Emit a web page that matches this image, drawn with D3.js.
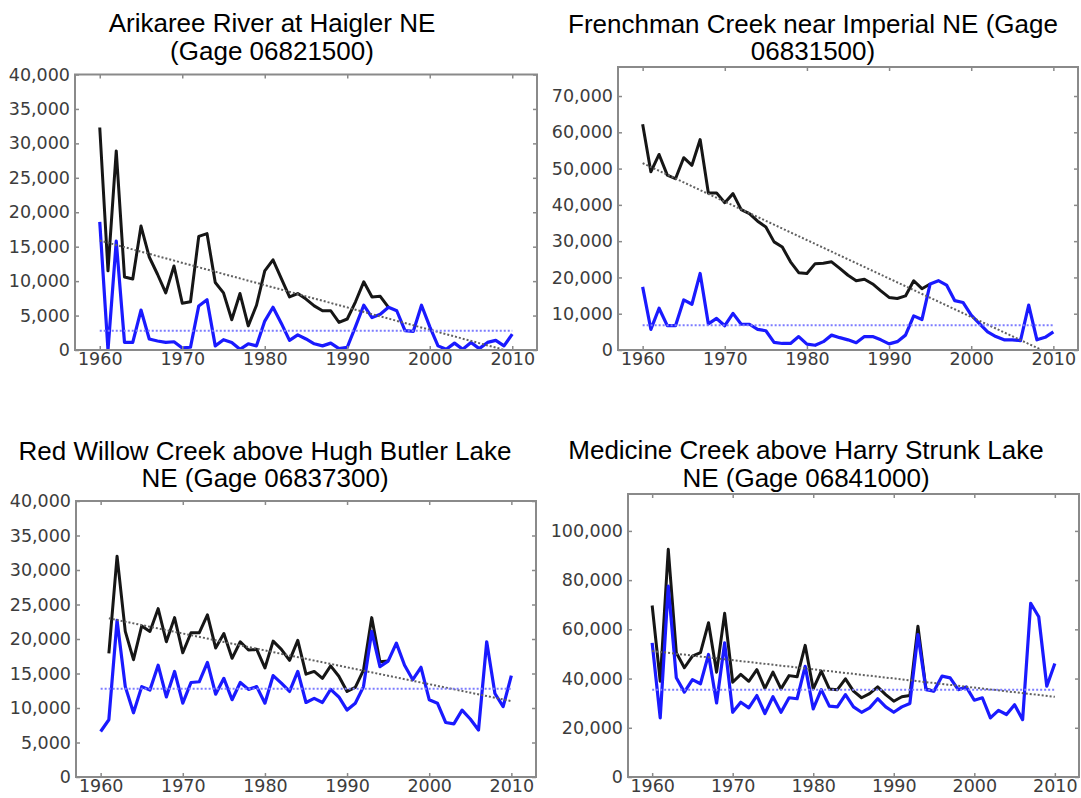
<!DOCTYPE html>
<html>
<head>
<meta charset="utf-8">
<script src="https://cdn.jsdelivr.net/npm/d3@7"></script>
<style>
  html, body { margin: 0; padding: 0; background: #fff; }
  svg { display: block; }
</style>
</head>
<body>
<svg id="chart" width="1081" height="798"></svg>
<script>
// Years on the x axis
const years = [1960, 1961, 1962, 1963, 1964, 1965, 1966, 1967, 1968, 1969,
  1970, 1971, 1972, 1973, 1974, 1975, 1976, 1977, 1978, 1979,
  1980, 1981, 1982, 1983, 1984, 1985, 1986, 1987, 1988, 1989,
  1990, 1991, 1992, 1993, 1994, 1995, 1996, 1997, 1998, 1999,
  2000, 2001, 2002, 2003, 2004, 2005, 2006, 2007, 2008, 2009, 2010];
const xTicks = [1960, 1970, 1980, 1990, 2000, 2010];

// Arikaree River at Haigler
const arikareeTitle = ["Arikaree River at Haigler NE", "(Gage 06821500)"];
const arikareeBlack = [32300, 11500, 28900, 10600, 10300, 18000, 13500, 11000, 8300, 12200,
  6800, 7000, 16500, 16900, 9800, 8300, 4400, 8200, 3500, 6500,
  11500, 13100, 10400, 7700, 8200, 7400, 6400, 5700, 5700, 4000,
  4500, 7000, 9900, 7700, 7800, 6200];
const arikareeBlue = [18600, 0, 15800, 1100, 1100, 5800, 1600, 1300, 1100, 1200,
  300, 400, 6400, 7300, 600, 1500, 1100, 100, 900, 600,
  4200, 6200, 3900, 1400, 2200, 1600, 900, 600, 1000, 200,
  400, 3400, 6500, 4700, 5200, 6200, 5700, 2800, 2700, 6500,
  3400, 600, 100, 1000, 100, 1100, 200, 1100, 1400, 600, 2300];
const arikareeTrend = [15900, -300];
const arikareeMean = 2800;
const arikareeTicks = [0, 5000, 10000, 15000, 20000, 25000, 30000, 35000, 40000];

// Frenchman Creek near Imperial
const frenchmanTitle = ["Frenchman Creek near Imperial NE (Gage", "06831500)"];
const frenchmanBlack = [62200, 49100, 53900, 48200, 47200, 53000, 50900, 58000, 43300, 43300,
  40600, 43100, 38700, 37600, 35500, 33900, 29800, 28400, 24300, 21300,
  21100, 23800, 23900, 24300, 22500, 20600, 19100, 19500, 18200, 16300,
  14500, 14200, 14900, 19100, 16900, 18200];
const frenchmanBlue = [17400, 5700, 11500, 6700, 6700, 13800, 12600, 21100, 7200, 8700,
  6700, 10100, 7100, 7100, 5700, 5300, 2100, 1800, 1800, 3700,
  1600, 1300, 2300, 4100, 3400, 2800, 2000, 3700, 3700, 2800,
  1700, 2300, 4100, 9400, 8400, 18200, 19100, 17900, 13600, 13100,
  9600, 7300, 5000, 3700, 2800, 2800, 2600, 12400, 2800, 3500, 5000];
const frenchmanTrend = [51500, -1500];
const frenchmanMean = 6800;
const frenchmanTicks = [0, 10000, 20000, 30000, 40000, 50000, 60000, 70000];

// Red Willow Creek above Hugh Butler Lake
const redWillowTitle = ["Red Willow Creek above Hugh Butler Lake", "NE (Gage 06837300)"];
const redWillowBlack = [null, 17900, 32000, 21100, 17000, 21900, 21100, 24400, 19600, 23100,
  18000, 20900, 20900, 23500, 18700, 20800, 17200, 19600, 18400, 18500,
  15800, 19700, 18500, 16900, 19800, 14900, 15300, 14300, 16100, 14600,
  12400, 13000, 15500, 23100, 16700, 16800];
const redWillowBlue = [6600, 8300, 22700, 13100, 9300, 13100, 12600, 16200, 11600, 15300,
  10700, 13700, 13800, 16600, 12000, 14300, 11200, 13700, 12700, 13100,
  10700, 14700, 13600, 12400, 15300, 10800, 11400, 10800, 12700, 11600,
  9700, 10700, 13100, 21100, 16000, 16800, 19400, 16200, 14100, 15900,
  11200, 10700, 7900, 7700, 9700, 8400, 6800, 19600, 12100, 10200, 14700];
const redWillowTrend = [23000, 11000];
const redWillowMean = 12800;
const redWillowTicks = [0, 5000, 10000, 15000, 20000, 25000, 30000, 35000, 40000];

// Medicine Creek above Harry Strunk Lake
const medicineTitle = ["Medicine Creek above Harry Strunk Lake", "NE (Gage 06841000)"];
const medicineBlack = [69700, 38900, 92500, 50500, 44400, 49100, 50500, 62700, 42600, 66500,
  38500, 41700, 38900, 43600, 36000, 42600, 35800, 41200, 40700, 53500,
  35800, 43000, 35800, 35500, 39900, 34900, 32200, 33900, 36600, 33500,
  30800, 32600, 33100, 61300, 35800, 34900];
const medicineBlue = [54500, 24000, 77600, 40300, 34500, 39600, 37900, 49800, 30100, 54500,
  26300, 30400, 28100, 33100, 25800, 32600, 26300, 32200, 31800, 45000,
  27700, 35500, 28800, 28500, 33500, 28500, 26300, 28100, 31800, 28500,
  26300, 28500, 29900, 57900, 35500, 34900, 41000, 40300, 35500, 36600,
  31200, 32200, 24000, 27100, 25400, 29400, 23300, 70600, 65100, 36900, 46100];
const medicineTrend = [51200, 32600];
const medicineMean = 35500;
const medicineTicks = [0, 20000, 40000, 60000, 80000, 100000];

// Panel layout (pixel boxes and title placement)
const panels = [
  { title: arikareeTitle, black: arikareeBlack, blue: arikareeBlue, trend: arikareeTrend,
    trendYears: [1960, 2010], mean: arikareeMean, ticks: arikareeTicks, yMax: 40000,
    l: 75, r: 537, t: 74.5, b: 350, tx: 272, ty: 32 },
  { title: frenchmanTitle, black: frenchmanBlack, blue: frenchmanBlue, trend: frenchmanTrend,
    trendYears: [1960, 2010], mean: frenchmanMean, ticks: frenchmanTicks, yMax: 78000,
    l: 618, r: 1078, t: 67, b: 350, tx: 813, ty: 32.5 },
  { title: redWillowTitle, black: redWillowBlack, blue: redWillowBlue, trend: redWillowTrend,
    trendYears: [1961, 2010], mean: redWillowMean, ticks: redWillowTicks, yMax: 40000,
    l: 76, r: 536, t: 501, b: 777, tx: 265, ty: 459.5 },
  { title: medicineTitle, black: medicineBlack, blue: medicineBlue, trend: medicineTrend,
    trendYears: [1960, 2010], mean: medicineMean, ticks: medicineTicks, yMax: 115000,
    l: 628, r: 1079, t: 494, b: 777, tx: 806, ty: 459 }
];

const svg = d3.select("#chart");
svg.append("rect").attr("width", 1081).attr("height", 798).attr("fill", "#fff");

const fmt = d3.format(",");
const spine = "#8a8a8a";

panels.forEach((p, i) => {
  const x = d3.scaleLinear().domain([1957, 2013]).range([p.l, p.r]);
  const y = d3.scaleLinear().domain([0, p.yMax]).range([p.b, p.t]);

  // Title, two lines
  svg.append("text")
    .attr("x", p.tx).attr("y", p.ty)
    .attr("text-anchor", "middle")
    .style("font-family", "'Liberation Sans', Arial, sans-serif")
    .style("font-size", "26px")
    .attr("fill", "#000")
    .selectAll("tspan").data(p.title).join("tspan")
    .attr("x", p.tx)
    .attr("dy", (d, k) => k === 0 ? 0 : 27.5)
    .text(d => d);

  // Clip lines to the plot area
  svg.append("clipPath").attr("id", "clip" + i)
    .append("rect")
    .attr("x", p.l).attr("y", p.t)
    .attr("width", p.r - p.l).attr("height", p.b - p.t);

  const g = svg.append("g").attr("clip-path", `url(#clip${i})`);

  const line = d3.line()
    .defined(d => d[1] != null)
    .x(d => x(d[0]))
    .y(d => y(d[1]));

  // Black series (ends where it joins the blue one)
  g.append("path")
    .datum(p.black.map((v, k) => [years[k], v]))
    .attr("d", line)
    .attr("fill", "none")
    .attr("stroke", "#161616")
    .attr("stroke-width", 3)
    .attr("stroke-linejoin", "round");

  // Blue series
  g.append("path")
    .datum(p.blue.map((v, k) => [years[k], v]))
    .attr("d", line)
    .attr("fill", "none")
    .attr("stroke", "#1a1aff")
    .attr("stroke-width", 3.2)
    .attr("stroke-linejoin", "round");

  // Trend of black series (dotted)
  g.append("path")
    .datum(p.trendYears.map((yr, k) => [yr, p.trend[k]]))
    .attr("d", line)
    .attr("fill", "none")
    .attr("stroke", "#606060")
    .attr("stroke-width", 2)
    .attr("stroke-dasharray", "2,2");

  // Mean of blue series (dotted)
  g.append("path")
    .datum([[1960, p.mean], [2010, p.mean]])
    .attr("d", line)
    .attr("fill", "none")
    .attr("stroke", "#7c7cff")
    .attr("stroke-width", 2)
    .attr("stroke-dasharray", "2,2");

  // Axes: inward ticks on all four sides
  const tickLen = 4;
  const yAxisL = d3.axisLeft(y).tickValues(p.ticks).tickSize(-tickLen).tickPadding(5).tickFormat(fmt);
  const yAxisR = d3.axisRight(y).tickValues(p.ticks).tickSize(-tickLen).tickFormat("");
  const xAxisB = d3.axisBottom(x).tickValues(xTicks).tickSize(-tickLen).tickPadding(3).tickFormat(d3.format("d"));
  const xAxisT = d3.axisTop(x).tickValues(xTicks).tickSize(-tickLen).tickFormat("");

  const axes = [
    svg.append("g").attr("transform", `translate(${p.l},0)`).call(yAxisL),
    svg.append("g").attr("transform", `translate(${p.r},0)`).call(yAxisR),
    svg.append("g").attr("transform", `translate(0,${p.b})`).call(xAxisB),
    svg.append("g").attr("transform", `translate(0,${p.t})`).call(xAxisT)
  ];
  axes.forEach(a => {
    a.select(".domain").remove();
    a.selectAll(".tick line").attr("stroke", spine).attr("stroke-width", 1.5);
    a.selectAll(".tick text")
      .attr("fill", "#3c3c3c")
      .style("font-family", "'DejaVu Sans', sans-serif")
      .style("font-size", "17.5px");
  });

  // Frame
  svg.append("rect")
    .attr("x", p.l).attr("y", p.t)
    .attr("width", p.r - p.l).attr("height", p.b - p.t)
    .attr("fill", "none")
    .attr("stroke", spine)
    .attr("stroke-width", 2);
});
</script>
</body>
</html>
